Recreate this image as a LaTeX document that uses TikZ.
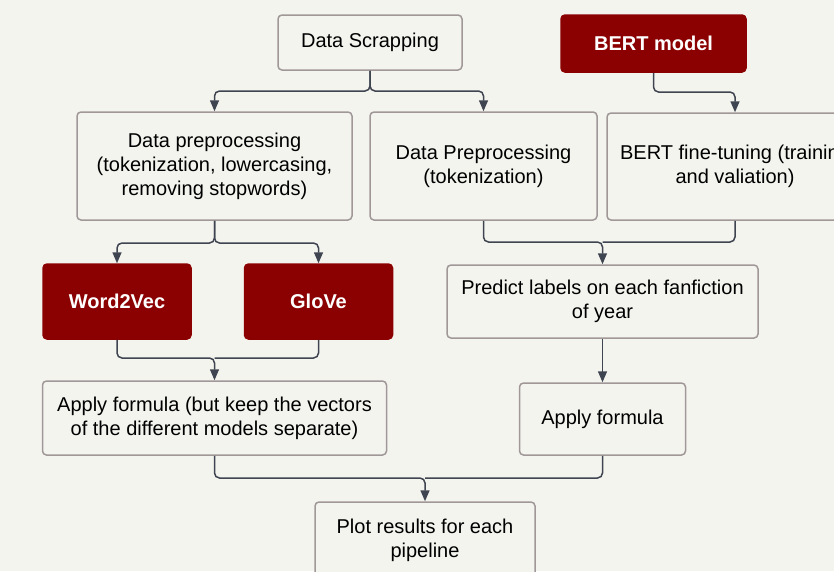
\documentclass[tikz,border=0pt]{standalone}
\usepackage{fontspec}
\setmainfont{Liberation Sans}
\usetikzlibrary{arrows.meta,positioning}
\definecolor{paper}{RGB}{244,244,239}
\definecolor{boxline}{RGB}{160,152,152}
\definecolor{darkred}{RGB}{139,0,0}
\definecolor{wire}{RGB}{62,68,80}
\tikzstyle{plainbox}=[draw=boxline,line width=1.5pt,rounded corners=4pt,fill=paper,align=center,inner sep=0pt,font=\fontsize{20}{24}\selectfont]
\tikzstyle{modelbox}=[plainbox,draw=darkred,fill=darkred,text=white,font=\fontsize{20}{24}\selectfont\bfseries]
\tikzstyle{link}=[draw=wire,line width=1.5pt,rounded corners=5pt,-{Triangle[length=11pt,width=9pt]}]
\tikzstyle{wireline}=[draw=wire,line width=1.5pt,rounded corners=5pt,-]

\begin{document}
\begin{tikzpicture}[x=1pt,y=-1pt]
    \useasboundingbox (0,0) rectangle (834,571);
    \clip (0,0) rectangle (834,571);
    \fill[paper] (0,0) rectangle (834,571);

    % First the boxes
    \node[plainbox,minimum width=184pt,minimum height=55pt] (scrap) at (370,42.5) {Data Scrapping};
    \node[modelbox,minimum width=185pt,minimum height=57pt] (bert) at (653.5,43.5) {BERT model};
    \node[plainbox,minimum width=275pt,minimum height=108pt] (prepL) at (214.5,166) {Data preprocessing\\(tokenization, lowercasing,\\removing stopwords)};
    \node[plainbox,minimum width=227pt,minimum height=108pt] (prepM) at (483.5,166) {Data Preprocessing\\(tokenization)};
    \node[plainbox,minimum width=256pt,minimum height=107pt] (tune) at (735,166.5) {BERT fine-tuning (training\\and valiation)};
    \foreach \pos/\name/\txt in {{(117,301.5)/w2v/Word2Vec}, {(318.5,301.5)/glove/GloVe}}
        \node[modelbox,minimum width=148pt,minimum height=75pt] (\name) at \pos {\txt};
    \node[plainbox,minimum width=311pt,minimum height=73pt] (predict) at (602.5,301.5) {Predict labels on each fanfiction\\of year};
    \node[plainbox,minimum width=344pt,minimum height=74pt] (applyL) at (214.5,418) {Apply formula (but keep the vectors\\of the different models separate)};
    \node[plainbox,minimum width=166pt,minimum height=72pt] (applyR) at (602.5,419) {Apply formula};
    \node[plainbox,minimum width=220pt,minimum height=76pt] (plot) at (425,540) {Plot results for each\\pipeline};

    % Junction points
    \coordinate (j1) at (370,91);
    \coordinate (j2) at (653.5,92);
    \coordinate (j3) at (214.5,243);
    \coordinate (j4) at (214.5,358);
    \coordinate (j5) at (602.5,242);
    \coordinate (j6) at (425,478);

    % Splitting connectors
    \foreach \source/\junc/\dest in {scrap/j1/prepL, scrap/j1/prepM, bert/j2/tune, prepL/j3/w2v, prepL/j3/glove}
        \path[link] (\source.south) -- (\junc) -| (\dest.north);

    % Merging connectors
    \foreach \source/\junc/\dest in {w2v/j4/applyL, prepM/j5/predict, applyL/j6/plot}
        \path[link] (\source.south) |- (\junc) -- (\dest.north);
    \foreach \source/\junc in {glove/j4, tune/j5, applyR/j6}
        \path[wireline] (\source.south) |- (\junc);

    \path[link] (predict) -- (applyR);
\end{tikzpicture}
\end{document}
